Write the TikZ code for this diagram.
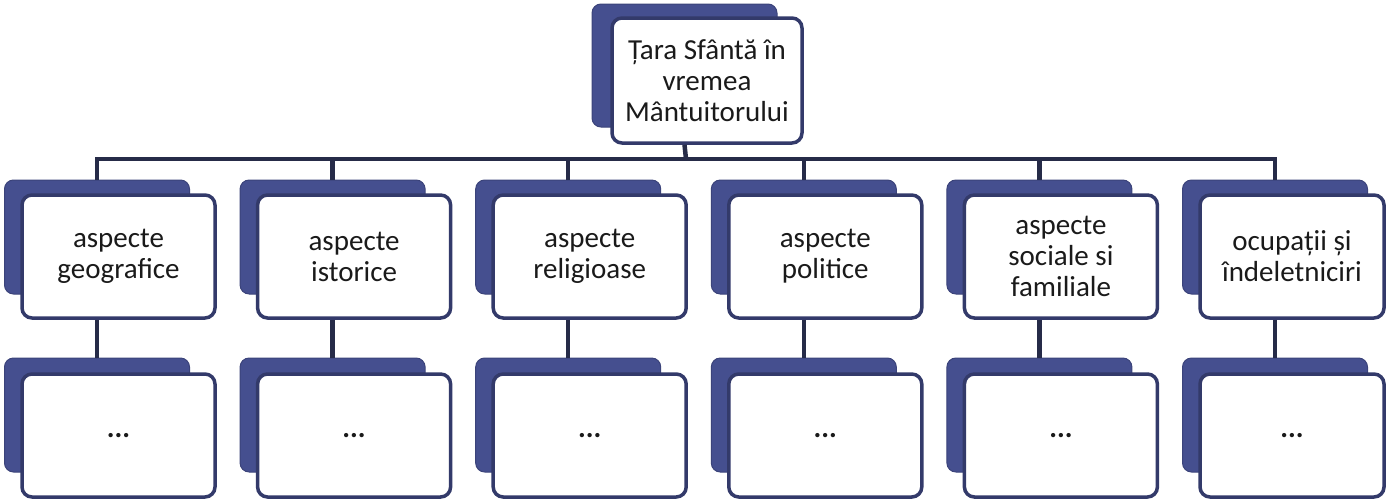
\documentclass[tikz,border=0pt]{standalone}
\usepackage{fontspec}
\setmainfont{Carlito}
\definecolor{shadowblue}{HTML}{454F8F}
\definecolor{boxborder}{HTML}{333A6A}
\definecolor{linecol}{HTML}{262B48}
\definecolor{txt}{HTML}{1A1A1A}
\begin{document}
\begin{tikzpicture}[x=1pt,y=-1pt,
  shadowbox/.style={draw=shadowblue!85!black,line width=1pt,fill=shadowblue,rounded corners=9pt,
    minimum width=185pt,minimum height=114pt,inner sep=0pt},
  whitebox/.style={draw=boxborder,line width=3.5pt,fill=white,rounded corners=10pt,
    minimum width=193pt,minimum height=123pt,inner sep=0pt,align=center,text=txt,
    font=\fontsize{29}{31}\selectfont},
  conn/.style={draw=linecol,line width=4.5pt}]
\useasboundingbox (0,0) rectangle (1386,501);
% top node
\node[shadowbox,minimum height=123pt] (topsh) at (684.5,65.5) {};
\node[whitebox,minimum width=190pt,minimum height=125pt] (top) at (707,80.5)
  {Țara Sfântă în\\vremea\\Mântuitorului};
\coordinate (bar) at (686,159);
% level 2 and 3
\foreach \i/\x/\lab/\bw in {1/97/{aspecte\\geografice}/193,
                        2/332.6/{aspecte\\istorice}/193,
                        3/568.2/{aspecte\\religioase}/193,
                        4/803.8/{aspecte\\politice}/193,
                        5/1039.4/{aspecte\\sociale si\\familiale}/193,
                        6/1275/{ocupații și\\îndeletniciri}/184}{
  \node[shadowbox] (s\i) at (\x,237) {};
  \node[whitebox,minimum width=\bw pt] (w\i) at (\x-75+\bw/2,256.5) {\lab};
  \node[shadowbox] (ts\i) at (\x,415) {};
  \node[whitebox,minimum width=\bw pt] (t\i) at (\x-75+\bw/2,435.5) {\textbf{...}};
}
% connectors
\draw[conn] (top.south -| topsh.center) -- (bar);
\foreach \i in {1,...,6}{
  \draw[conn] (bar) -| (s\i.north);
  \draw[conn] (w\i.south -| s\i.center) -- (ts\i.north);
}
\draw[conn] (bar -| s1.north) -- (bar -| s6.north);
\end{tikzpicture}
\end{document}
